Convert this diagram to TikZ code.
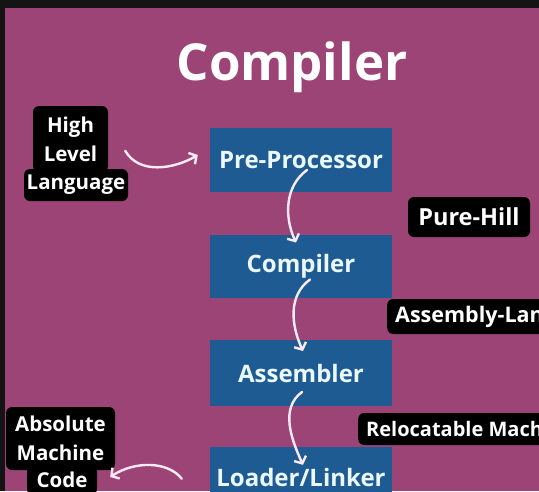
\documentclass[tikz,border=0pt]{standalone}
\usepackage{fontspec}
\setmainfont{Open Sans}
\usepackage{xcolor}
\usetikzlibrary{arrows.meta,positioning}

\definecolor{plum}{HTML}{9D4476}
\definecolor{stepblue}{HTML}{1E5B93}
\definecolor{frame}{HTML}{141414}
\definecolor{chalk}{HTML}{FBEAF4}

\begin{document}
\begin{tikzpicture}[x=1pt, y=-1pt,
  stage/.style={fill=stepblue, minimum width=182pt, text=white!92!cyan,
                font=\fontsize{24}{28}\selectfont\bfseries},
  tag/.style={fill=black, rounded corners=6pt, text=white, inner sep=0pt,
              font=\fontsize{20.5}{29}\selectfont\bfseries, align=center},
  arr/.style={-{Straight Barb[length=5.5pt, width=13pt]}, line width=2.4pt,
              draw=chalk, line cap=round}]
\useasboundingbox (0,0) rectangle (539,491);
\clip (0,0) rectangle (539,491);
% --- frame and background ---
\fill[frame] (0,0) rectangle (539,491);
\fill[plum] (5,8) rectangle (539,491);
\node[font=\fontsize{51}{60}\selectfont\bfseries, text=white, anchor=base]
  (title) at (292,80) {Compiler};
% --- stages ---
\node[stage, minimum height=64pt] (pre)  at (301,160)   {Pre-Processor};
\node[stage, minimum height=63pt] (comp) at (301,266.5) {Compiler};
\node[stage, minimum height=66pt] (asm)  at (301,373)   {Assembler};
\node[stage, minimum height=60pt] (load) at (301,477)   {Loader/Linker};
% --- labels ---
\node[tag, minimum width=75pt, minimum height=66pt] (hlltop) at (70.5,139) {High\\Level};
\node[tag, minimum width=104pt, minimum height=32pt] (hllbot) at (76,185) {Language};
\node[tag, minimum width=122pt, minimum height=40pt, font=\fontsize{23.5}{28}\selectfont\bfseries]
  (pure) at (469,217) {Pure-Hill};
\node[tag, anchor=west, minimum height=35pt, inner xsep=8pt,
      font=\fontsize{21.5}{26}\selectfont\bfseries] (asmlang) at (387,316.5)
  {Assembly-Language};
\node[tag, anchor=west, minimum height=32pt, inner xsep=8pt,
      font=\fontsize{20}{24}\selectfont\bfseries] (reloc) at (358,429)
  {Relocatable Machine Code};
\node[tag, minimum width=109pt, minimum height=63pt] (abstop) at (60.5,438.5) {Absolute\\Machine};
\node[tag, minimum width=70pt, minimum height=30pt] (absbot) at (62,480) {Code};
% --- flow ---
\draw[arr] ([shift={(-3,-18)}]hllbot.north east) .. controls +(14,24) and +(-24,14) ..
  ([shift={(-12,-5)}]pre.west);
\draw[arr] ([shift={(6,10)}]pre.center) .. controls +(-22,16) and +(-12,-26) ..
  ([shift={(-5,-24)}]comp.center);
\draw[arr] ([shift={(9,13)}]comp.center) .. controls +(-22,16) and +(-12,-26) ..
  ([shift={(2,-22)}]asm.center);
\draw[arr] ([shift={(1,19)}]asm.center) .. controls +(-22,16) and +(-12,-26) ..
  ([shift={(2,18)}]load.north);
\draw[arr] ([shift={(-28,32)}]load.north west) .. controls +(-14,-18) and +(24,-16) ..
  ([shift={(13,-3)}]absbot.east);
\end{tikzpicture}
\end{document}
